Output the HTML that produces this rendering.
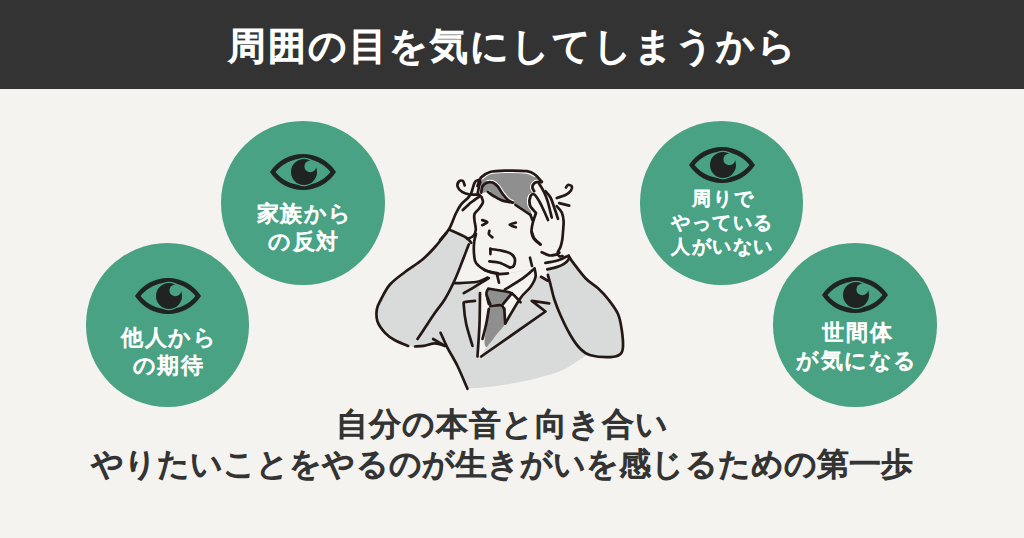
<!DOCTYPE html>
<html lang="ja">
<head>
<meta charset="utf-8">
<style>
html,body{margin:0;padding:0;}
body{width:1024px;height:538px;overflow:hidden;position:relative;background:#f4f3ef;font-family:"Liberation Sans",sans-serif;font-weight:normal;}
.hdr{position:absolute;left:0;top:0;width:1024px;height:89px;background:#333333;}
.title{position:absolute;left:0;top:22px;width:1024px;text-align:center;color:#fff;font-size:38px;line-height:48px;letter-spacing:2px;text-indent:2px;white-space:nowrap;-webkit-text-stroke:1.7px #fff;}
.c{position:absolute;width:163.4px;height:163.4px;border-radius:50%;background:#48a283;}
.eye{position:absolute;width:66px;height:36px;}
.ct{position:absolute;width:162px;text-align:center;color:#fff;white-space:nowrap;letter-spacing:1.6px;text-indent:1.6px;-webkit-text-stroke:1.1px #fff;}
.bt{position:absolute;left:-10px;width:1024px;text-align:center;color:#333;font-size:32px;line-height:40px;white-space:nowrap;-webkit-text-stroke:1.4px #333;}
svg{position:absolute;left:0;top:0;overflow:visible;}
</style>
</head>
<body>
<div class="hdr"></div>
<div class="title">周囲の目を気にしてしまうから</div>

<svg width="0" height="0" style="position:absolute">
<defs>
<g id="eyeg">
<path fill="#1f2321" fill-rule="evenodd" d="M0,18 A39.25,39.25 0 0 1 66,18 A39.25,39.25 0 0 1 0,18 Z M5.5,18 A35.25,35.25 0 0 0 60.5,18 A35.25,35.25 0 0 0 5.5,18 Z"/>
<circle cx="34" cy="18" r="13.6" fill="#1f2321" stroke="#48a283" stroke-width="1.2"/>
<circle cx="40.3" cy="12.4" r="5.9" fill="#48a283"/>
</g>
</defs>
</svg>

<!-- circles -->
<div class="c" style="left:221.3px;top:121.3px;"></div>
<div class="c" style="left:85.7px;top:243.3px;"></div>
<div class="c" style="left:639.7px;top:121.3px;"></div>
<div class="c" style="left:773.3px;top:243.3px;"></div>
<svg class="eye" style="left:270px;top:154.2px;" width="66" height="36" viewBox="0 0 66 36"><use href="#eyeg"/></svg>
<svg class="eye" style="left:134.6px;top:278.2px;" width="66" height="36" viewBox="0 0 66 36"><use href="#eyeg"/></svg>
<svg class="eye" style="left:688.7px;top:146.6px;" width="66" height="36" viewBox="0 0 66 36"><use href="#eyeg"/></svg>
<svg class="eye" style="left:822.2px;top:276.8px;" width="66" height="36" viewBox="0 0 66 36"><use href="#eyeg"/></svg>
<div class="ct" style="left:223px;top:200px;font-size:22px;line-height:28px;">家族から<br>の反対</div>
<div class="ct" style="left:87.5px;top:324px;font-size:22px;line-height:28px;">他人から<br>の期待</div>
<div class="ct" style="left:641.5px;top:187px;font-size:19px;line-height:24px;">周りで<br>やっている<br>人がいない</div>
<div class="ct" style="left:776px;top:318.5px;font-size:22px;line-height:28.5px;">世間体<br>が気になる</div>

<!--MAN-->
<svg class="man" width="1024" height="538" viewBox="0 0 1024 538">
<path fill="#d9dbda" d="M449.1,229.6L458.0,233.5L466.0,237.5L471.2,242.7L466.0,252.0L462.5,260.8L455.0,279.5L455.0,283.2L476.2,282.0L487.5,277.6L510.0,273.0L534.5,268.5L536.0,276.0L540.5,276.4L548.0,280.8L547.3,269.4L556.6,267.1L564.0,263.8L568.7,259.2L568.7,256.0C569.5,257.1 570.5,259.2 573.3,262.9C576.1,266.6 581.4,274 585.5,278.2C589.6,282.5 594.2,284.8 598,288.2C601.8,291.7 604.7,294.7 608,299C611.3,303.3 615.7,308.8 618,314C620.3,319.2 620.9,324.8 621.8,330.2C622.6,335.7 623.2,342.5 623,346.5C622.8,350.5 622.6,352.2 620.5,354C618.4,355.8 615.5,356.9 610.5,357.1C605.5,357.3 594.6,355.5 590.5,355.2C586.4,355 586.8,355.5 586,355.5C583.3,357.2 575.2,363.1 570,366C564.8,368.9 562.5,370.5 555,373C547.5,375.5 534.8,378.8 525,381C515.2,383.2 505.6,384.7 496,386C486.4,387.3 472.2,388.3 467.5,388.8L457.5,366.0L447.5,347.8L445.0,345.9L435.0,343.4L415.0,346.5L408.0,346.0C405.8,345 398.8,342.5 395,340.2C391.2,338 387.9,335.9 385,332.8C382.1,329.6 378.9,325.5 377.5,321.5C376.1,317.5 376.3,312.8 376.9,309C377.5,305.2 379.1,303.1 381.2,299C383.4,294.9 386,289 390,284.5C394,280 399.6,276.2 405,272C410.4,267.8 417.5,263.7 422.5,259.5C427.5,255.3 431.8,250.6 435,247C438.2,243.4 439.6,240.9 442,238C444.4,235.1 447.9,231 449.1,229.6Z"/>
<path fill="#f4f3ef" d="M479.5,286.0 L488.0,278.0 L534.5,268.5 L535.5,277.0 L530.5,287.0 L520.2,298.4 L505.2,323.5 L497.0,334.0 L486.8,346.0 L481.0,356.0 L477.5,356.5Z"/>
<path fill="#8f8f8f" d="M488.3,288.6 L503.0,291.0 L511.8,293.4 L503.0,304.2 L490.3,304.2 L486.4,294.4Z"/>
<path fill="#8f8f8f" d="M489.3,306.5C491.6,304.4 499.5,304.9 502,305.5C504.5,306.1 504,307.1 504.5,310C505,312.9 506.4,319 505.2,323C503.9,327 499.5,330.7 497,334C494.5,337.3 491.8,340.8 490,343C488.2,345.2 487.4,347 486.5,347C485.6,347 484.6,345.8 484.5,343C484.4,340.2 485.4,334.2 486,330C486.6,325.8 487.4,321.9 488,318C488.6,314.1 487,308.6 489.3,306.5Z"/>
<path fill="#8f8f8f" d="M481,188C481.2,185.8 480.5,181.4 482,179C483.5,176.6 486.2,174.6 490,173.5C493.8,172.4 498.8,172.4 505,172.3C511.2,172.2 522,172.3 527,173C532,173.7 532.8,175 535,176.5C537.2,178 540,180.9 540,182C540,183.1 536.3,182.2 535,183C533.7,183.8 532.6,185.7 532.4,187C532.2,188.3 534.4,189.5 534,191C533.6,192.5 530.7,193.7 530,196C529.3,198.3 529.8,202.3 530,205C530.2,207.7 531,210.3 531,212C531,213.7 532.7,216.2 530,215C527.3,213.8 517.9,207.1 515,205C512.1,202.9 514.5,204.5 512.5,202.5C510.5,200.5 505.6,195.8 503,193C500.4,190.2 499.2,187.7 497,186C494.8,184.3 492.2,183.2 490,183C487.8,182.8 485.5,183.5 484,185C482.5,186.5 481.5,191.5 481,192C480.5,192.5 480.8,190.2 481,188Z"/>
<path fill="#8f8f8f" d="M481.2,192.5C480.3,191.5 481.5,187.9 482.5,186.2C483.5,184.6 485.8,183.1 487.5,182.5C489.2,181.9 490.8,181.9 492.5,182.5C494.2,183.1 495.8,184.4 497.5,186.2C499.2,188.1 500.8,191.5 502.5,193.8C504.2,196 506.3,198.5 508,200C509.7,201.5 513.4,202.4 512.5,202.5C511.6,202.6 505.6,201.6 502.5,200.6C499.4,199.6 496.2,197.7 493.8,196.2C491.3,194.8 490.1,192.6 488,192C485.9,191.4 482.2,193.5 481.2,192.5Z"/>
<path fill="#f4f3ef" d="M489,190.5a1.6,1.6 0 1 0 0.01,0Z"/>
<g fill="none" stroke="#ffffff" stroke-width="1.1" stroke-linecap="round">
<path d="M482.4,178.8C483.8,177.9 486.8,174.9 490.5,173.8C494.3,172.8 499,172.6 505,172.5C511.1,172.4 521.8,172.5 526.7,173.1C531.6,173.8 533.1,176 534.4,176.5"/>
<path d="M486.8,180.7C487.9,180.7 491.2,180 493.2,180.7C495.2,181.4 497.1,183 498.9,185C500.7,187 502.3,190.3 504,192.6C505.7,194.9 507.7,197.2 509.3,198.6C510.8,199.9 512.7,200.5 513.4,200.8"/>
<path d="M541.6,180C540.4,180.1 536.4,179.7 534.6,180.8C532.8,181.9 530.9,184.8 530.5,186.6C530.2,188.5 532.2,191.1 532.5,192"/>
<path d="M534,213.6C533,212.3 529,208.6 528.1,205.6C527.2,202.5 527.6,197.7 528.7,195.5C529.9,193.4 534.1,193.2 535.2,192.8"/>
</g>
<g fill="none" stroke="#231815" stroke-linecap="round" stroke-linejoin="round">
<path stroke-width="2.7" d="M477.5,186C478.1,184.6 478.9,179.8 481,177.5C483.1,175.2 486,173.2 490,172C494,170.8 498.8,170.7 505,170.6C511.2,170.5 521.9,170.5 527,171.2C532.1,172 533,173.2 535.5,175C538,176.8 540.7,180.8 541.8,182"/>
<path stroke-width="2.7" d="M481.2,192.5C481.5,191.5 481.5,187.9 482.5,186.2C483.5,184.6 485.8,183.1 487.5,182.5C489.2,181.9 490.8,181.9 492.5,182.5C494.2,183.1 495.8,184.4 497.5,186.2C499.2,188.1 500.8,191.5 502.5,193.8C504.2,196 506.3,198.5 508,200C509.7,201.5 511.8,202.1 512.5,202.5"/>
<path stroke-width="2.7" d="M488,192C489,192.7 491.3,194.8 493.8,196.2C496.2,197.7 499.4,199.6 502.5,200.6C505.6,201.6 510.8,202.2 512.5,202.5"/>
<path stroke-width="2.7" d="M515.5,205L530.5,215"/>
<path stroke-width="2.7" d="M541.8,181.9C540.7,182 537.1,181.7 535.5,182.5C533.9,183.3 532.6,185.4 532.4,186.9C532.2,188.4 533.9,190.5 534.2,191.2"/>
<path stroke-width="2.7" d="M539.2,183.8C540.1,185.2 542.8,189.4 544.2,192.5C545.7,195.6 546.8,198.3 548,202.5C549.2,206.7 551.1,215 551.8,217.5"/>
<path stroke-width="2.7" d="M545.5,191.2C546.3,192.3 549,194.8 550.5,197.5C552,200.2 553,204 554.2,207.5C555.5,211 557.4,216.9 558,218.8"/>
<path stroke-width="2.7" d="M535.5,212.5C534.6,211.2 530.7,207.7 529.9,205C529.1,202.3 529.8,198 530.5,196.2C531.2,194.5 532.8,193.6 534.2,194.4C535.7,195.2 537.8,198.9 539.2,201.2C540.7,203.6 541.5,205.6 543,208.8C544.5,211.9 547.2,218.1 548,220"/>
<path stroke-width="2.7" d="M556.8,206.2C557.6,207.3 560.6,210 561.8,212.5C562.9,215 563.4,218 563.6,221.2C563.8,224.5 563.2,228.9 563,232C562.8,235.1 562.6,237.5 562.2,240C561.8,242.5 561.3,244.8 560.5,247C559.7,249.2 557.7,251.5 557.5,253.1C557.3,254.7 558.7,255.8 559.5,256.3C560.3,256.8 562,256.1 562.5,256"/>
<path stroke-width="2.7" d="M536,213C535.5,214.5 533.8,218.8 533,222C532.2,225.2 531.3,229.2 531.5,232C531.7,234.8 532.5,236.9 534,239C535.5,241.1 539.4,243.6 540.5,244.5"/>
<path stroke-width="2.7" d="M530.5,215L532.4,220"/>
<path stroke-width="2.7" d="M556.8,198C558.2,197.5 563.1,196.2 565.5,195C567.9,193.8 570,192.1 571,190.6C572,189.1 572.2,187.2 571.8,186.2C571.2,185.3 569,184.8 568,185C567,185.2 566.3,187.1 566,187.5"/>
<path stroke-width="2.7" d="M559.2,203.1L569.2,205.6"/>
<path stroke-width="2.7" d="M479,194.5C477.5,194.5 472.8,194.9 470,194.5C467.2,194.1 464.2,193.2 462.1,191.9C460,190.6 458.1,188.4 457.6,186.7C457.1,185 458,182.5 458.9,181.5C459.8,180.5 461.8,180.2 462.8,180.9C463.8,181.6 464.4,184.7 464.7,185.4"/>
<path stroke-width="2.7" d="M440,240C441.5,238.2 446.5,233.3 449.1,229C451.7,224.7 453.7,218 455.6,214C457.6,210 458.7,207.6 460.8,204.9C462.9,202.2 466.3,199.8 468,197.8C469.7,195.9 470.1,195.7 471.2,193.2C472.3,190.7 473.4,185 474.5,182.8C475.6,180.6 476.7,180.4 477.7,180.2C478.7,180 480.1,180.4 480.3,181.5C480.5,182.6 479.4,184.8 479,186.7C478.6,188.6 477.9,192.1 477.7,193.2"/>
<path stroke-width="2.7" d="M462.8,210.1C464.2,208.8 468.3,204.7 471.2,202.3C474.1,199.9 478.8,196.9 480.3,195.8"/>
<path stroke-width="2.7" d="M481.6,197.1C481.8,198 483.3,200.4 482.9,202.3C482.5,204.2 480.4,206.9 479,208.8C477.6,210.8 475.2,212.1 474.5,214C473.8,215.9 474.3,217.9 474.5,220.5C474.7,223.1 476,227 475.8,229.6C475.6,232.2 474.6,234.7 473.2,236.2C471.8,237.7 468.3,238.4 467.3,238.8"/>
<path stroke-width="2.7" d="M449.1,229.6C451.9,230.9 462.3,235.3 466,237.5C469.7,239.7 470.3,241.8 471.2,242.7"/>
<path stroke-width="2.7" d="M482.2,220.1C483.1,220.4 487.3,221.3 487.3,222.2C487.3,223 483.1,224.7 482.2,225.2"/>
<path stroke-width="2.7" d="M515.8,222.7C514.8,223 509.7,223.9 509.7,224.7C509.7,225.4 514.8,226.8 515.8,227.2"/>
<path stroke-width="2.7" d="M489.4,230.8C489.3,231.4 488.4,233.2 488.9,234.3C489.4,235.4 491.8,236.9 492.4,237.4"/>
<path stroke-width="2.7" d="M490.4,248.6L490.4,254.1"/>
<path stroke-width="2.7" d="M490.4,249.1C492.2,249.3 498.1,249.8 501.5,250.6C504.9,251.3 508.5,252.2 510.7,253.6C512.9,254.9 514.2,256.6 514.8,258.7C515.2,260.8 514.5,264.5 513.7,266C512.9,267.5 510.5,267.3 509.9,267.6"/>
<path stroke-width="2.7" d="M489.4,261.3C491.1,261.6 496.1,261.8 499.5,262.8C502.9,263.9 508.2,266.8 509.9,267.6"/>
<path stroke-width="2.7" d="M476,234C475.7,235.4 474.4,239.1 474.1,242.5C473.8,245.9 473.7,251.2 474.1,254.7C474.5,258.2 474.2,260.6 476.2,263.2C478.3,265.9 482.6,269.1 486.2,270.8C489.9,272.4 496,272.8 498,273.2"/>
<path stroke-width="2.7" d="M484.4,270C486.5,270.6 493.2,273.3 497.1,273.9C501,274.5 506.1,273.5 507.9,273.4"/>
<path stroke-width="2.7" d="M497.1,274.9L499,282.7"/>
<path stroke-width="2.7" d="M530,257.7L532,266"/>
<path stroke-width="2.7" d="M531.8,232C532.2,233 532.8,236.2 534.2,238.2C535.7,240.3 539.5,243.5 540.5,244.5"/>
<path stroke-width="2.7" d="M541.7,252.2C543,252.7 546.7,255 549.2,255.4C551.7,255.8 554.9,254.9 556.6,254.5C558.3,254.1 558.9,253 559.4,252.7"/>
<path stroke-width="2.7" d="M545.4,262.9C547.1,262.6 552.9,261.7 555.7,261C558.5,260.3 560.5,259.4 562.2,258.7C563.9,258 564.8,257.3 565.9,256.8C567,256.3 568.2,256.1 568.7,255.9"/>
<path stroke-width="2.7" d="M547.3,269.4C548.8,269 553.8,268 556.6,267.1C559.4,266.2 562,265.1 564,263.8C566,262.5 567.9,260.5 568.7,259.2C569.5,257.9 568.7,256.4 568.7,255.9"/>
<path stroke-width="2.7" d="M446.2,233.2C444.4,235.5 439,242.6 435,247C431,251.4 427.5,255.3 422.5,259.5C417.5,263.7 410.4,267.8 405,272C399.6,276.2 394,280 390,284.5C386,289 383.4,294.9 381.2,299C379.1,303.1 377.5,305.2 376.9,309C376.3,312.8 376.1,317.5 377.5,321.5C378.9,325.5 382.1,329.6 385,332.8C387.9,335.9 391.1,338.1 395,340.2C398.9,342.4 405.9,345 408.1,345.9"/>
<path stroke-width="2.7" d="M468.8,244.5C467.7,247.2 464.8,254.9 462.5,260.8C460.2,266.6 457.9,273.1 455,279.5C452.1,285.9 448.3,293.5 445,299C441.7,304.5 438.3,308 435,312.8C431.7,317.5 427.9,323.4 425,327.8C422.1,332.1 418.8,337.1 417.5,339"/>
<path stroke-width="2.7" d="M415,346.5C416.5,346.4 420.4,346.4 423.8,345.9C427.1,345.4 431.5,343.4 435,343.4C438.5,343.4 443.3,345.5 445,345.9"/>
<path stroke-width="2.7" d="M433.1,339L445,345.9"/>
<path stroke-width="2.7" d="M440.6,332.8C441.8,335.2 444.7,342.2 447.5,347.8C450.3,353.3 454.2,359.2 457.5,366C460.8,372.8 465.8,385 467.5,388.8"/>
<path stroke-width="2.7" d="M487.5,277.6C485.6,278.3 481.7,281.1 476.2,282C470.8,282.9 458.5,283 455,283.2"/>
<path stroke-width="2.7" d="M488.8,278.2C486.7,279.5 480.4,283.2 476.2,285.8C472.1,288.2 465.8,292 463.8,293.2"/>
<path stroke-width="2.7" d="M475,300.9C473.3,301.1 466.9,301.4 465,302.1C463.1,302.8 463.5,301.6 463.8,305.2C464,308.9 464.8,317.2 466.2,324C467.7,330.8 471.5,342.2 472.5,345.9"/>
<path stroke-width="2.7" d="M480,293C479.9,298.2 479.9,313.4 479.5,324C479.1,334.6 477.8,351.1 477.5,356.5"/>
<path stroke-width="2.7" d="M487.5,299L488.8,304"/>
<path stroke-width="2.7" d="M488.8,309C488.3,311.5 487.3,319 486.2,324C485.2,329 483.1,336.5 482.5,339"/>
<path stroke-width="2.7" d="M481.2,356.5 L545.5,311.5 L531.8,300.9 L549.2,303.4"/>
<path stroke-width="2.7" d="M505.2,323.5C507.7,319.3 516,304.5 520.2,298.4C524.4,292.3 528,290.6 530.5,287C533,283.4 534.8,280.1 535.5,277C536.2,273.9 534.7,269.9 534.5,268.5"/>
<path stroke-width="2.7" d="M504.3,308.5L505.2,323.5"/>
<path stroke-width="2.7" d="M505,289.5C508,287.6 518.1,281.8 523,278.2C527.9,274.8 532.6,270.1 534.5,268.5"/>
<path stroke-width="2.7" d="M488.3,288.6C490.8,289 499.1,290.2 503,291C506.9,291.8 508.8,291.5 511.8,293.4C514.7,295.3 519,300.7 520.5,302.2"/>
<path stroke-width="2.7" d="M487.5,290C487.3,290.7 485.9,292 486.4,294.4C486.9,296.8 489.6,302.6 490.3,304.2"/>
<path stroke-width="2.7" d="M503,304.2L511.8,293.4"/>
<path stroke-width="2.7" d="M490.3,306.1C492.1,306 498.7,304.7 501,305.2C503.3,305.7 503.5,308.4 504,309"/>
<path stroke-width="2.7" d="M541,276.8L547.9,280.7"/>
<path stroke-width="2.7" d="M547.9,274.9C548.3,276.5 549.4,280.5 550.5,284.5C551.6,288.5 552.6,293.9 554.2,299C555.9,304.1 557.8,309.2 560.5,315.2C563.2,321.3 567.2,329.6 570.5,335.2C573.8,340.9 577.2,345.7 580.5,349C583.8,352.3 585.5,353.9 590.5,355.2C595.5,356.6 605.5,357.3 610.5,357.1C615.5,356.9 618.4,355.8 620.5,354C622.6,352.2 622.8,350.5 623,346.5C623.2,342.5 622.6,335.7 621.8,330.2C620.9,324.8 620.3,319.2 618,314C615.7,308.8 611.3,303.3 608,299C604.7,294.7 601.8,291.7 598,288.2C594.2,284.8 589.6,282.5 585.5,278.2C581.4,274 576.1,266.6 573.3,262.9C570.5,259.2 569.5,257.1 568.7,256"/>
</g></svg>
<!--/MAN-->
<div class="bt" style="top:404px;letter-spacing:0.8px;text-indent:0.8px;">自分の本音と向き合い</div>
<div class="bt" style="top:444px;letter-spacing:0.1px;">やりたいことをやるのが生きがいを感じるための第一歩</div>
</body>
</html>
